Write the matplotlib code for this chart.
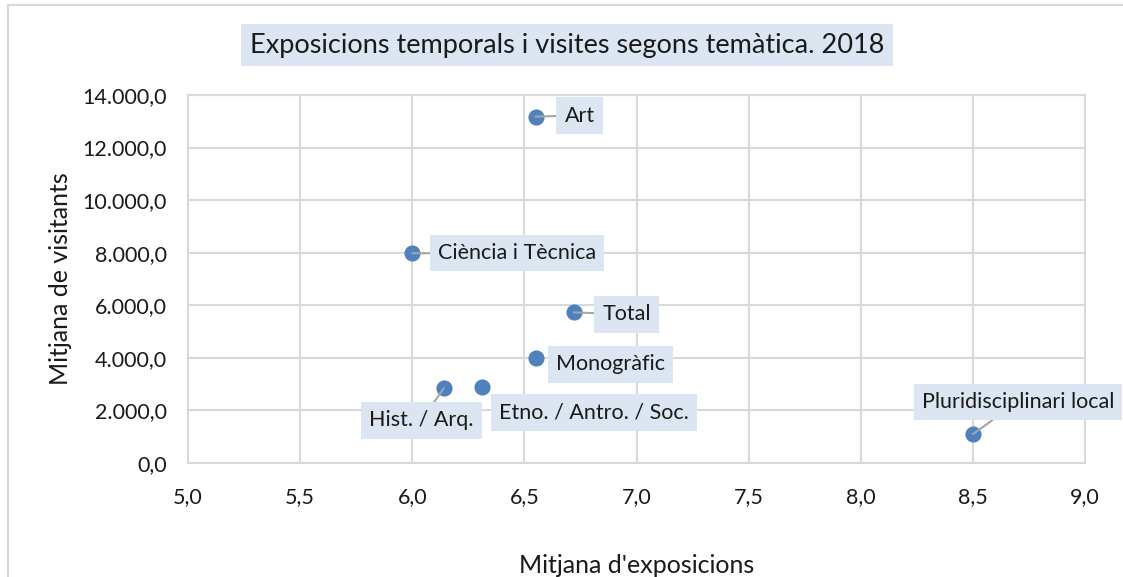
import matplotlib.pyplot as plt
from matplotlib.lines import Line2D
from matplotlib.ticker import FuncFormatter, MultipleLocator

plt.rcParams["font.family"] = ["Lato", "DejaVu Sans"]

categories = ["Art", "Ciència i Tècnica", "Total", "Monogràfic",
              "Hist. / Arq.", "Etno. / Antro. / Soc.", "Pluridisciplinari local"]
exposicions = [6.55, 6.0, 6.72, 6.55, 6.14, 6.31, 8.5]
visitants = [13180, 7980, 5730, 3980, 2840, 2910, 1100]

# label offsets in pixels (dx, dy) and whether a leader line is drawn
label_pos = [(44, 1, True), (105, 0, True), (53, -2, True), (75, -6, False),
             (-22, -32, True), (112, -26, False), (45, 32, True)]

BLUE = "#4F81BD"
GRID = "#D9D9D9"
BOX = "#DCE6F2"
TXT = "#1A1A1A"


def fmt_es(v, dec):
    s = f"{v:,.{dec}f}"
    return s.replace(",", "X").replace(".", ",").replace("X", ".")


fig = plt.figure(figsize=(11.23, 5.77), dpi=100)
ax = fig.add_axes([188 / 1123, 1 - 463 / 577, (1085 - 188) / 1123, (463 - 95) / 577])

ax.scatter(exposicions, visitants, s=135, color=BLUE, zorder=3, linewidths=0)

for name, x, y, (dx, dy, line) in zip(categories, exposicions, visitants, label_pos):
    ax.annotate(name, xy=(x, y), xytext=(dx, dy), textcoords="offset pixels",
                ha="center", va="center", fontsize=15.5, color=TXT, zorder=4,
                bbox=dict(boxstyle="square,pad=0.38", fc=BOX, ec="none"),
                arrowprops=dict(arrowstyle="-", color="#A6A6A6", lw=1.5,
                                shrinkA=0, shrinkB=0) if line else None)

ax.set_xlim(5.0, 9.0)
ax.set_ylim(0, 14000)
ax.xaxis.set_major_locator(MultipleLocator(0.5))
ax.yaxis.set_major_locator(MultipleLocator(2000))
ax.xaxis.set_major_formatter(FuncFormatter(lambda v, p: fmt_es(v, 1)))
ax.yaxis.set_major_formatter(FuncFormatter(lambda v, p: fmt_es(v, 1)))
ax.grid(True, color=GRID, lw=1.5, zorder=0)
ax.set_axisbelow(True)
for side in ["top", "right", "left", "bottom"]:
    ax.spines[side].set_color(GRID)
    ax.spines[side].set_linewidth(1.5)
ax.tick_params(length=0, labelsize=15.5, colors=TXT)
ax.tick_params(axis="y", pad=15)
ax.tick_params(axis="x", pad=17)
for lab in ax.get_xticklabels() + ax.get_yticklabels():
    lab.set_color(TXT)

ax.set_xlabel("Mitjana d'exposicions", fontsize=18, color=TXT, labelpad=34)
ax.set_ylabel("Mitjana de visitants", fontsize=18, color=TXT, labelpad=8)

fig.text(567 / 1123, 1 - 45 / 577, "Exposicions temporals i visites segons temàtica. 2018",
         ha="center", va="center", fontsize=19.5, color=TXT,
         bbox=dict(boxstyle="square,pad=0.32", fc=BOX, ec="none"))

# chart area border (top and left visible)
fig.add_artist(Line2D([8 / 1123, 1], [1 - 5 / 577] * 2, color=GRID, lw=1.5))
fig.add_artist(Line2D([8 / 1123] * 2, [0, 1 - 5 / 577], color=GRID, lw=1.5))

fig.savefig("out.png", dpi=100, facecolor="white")
